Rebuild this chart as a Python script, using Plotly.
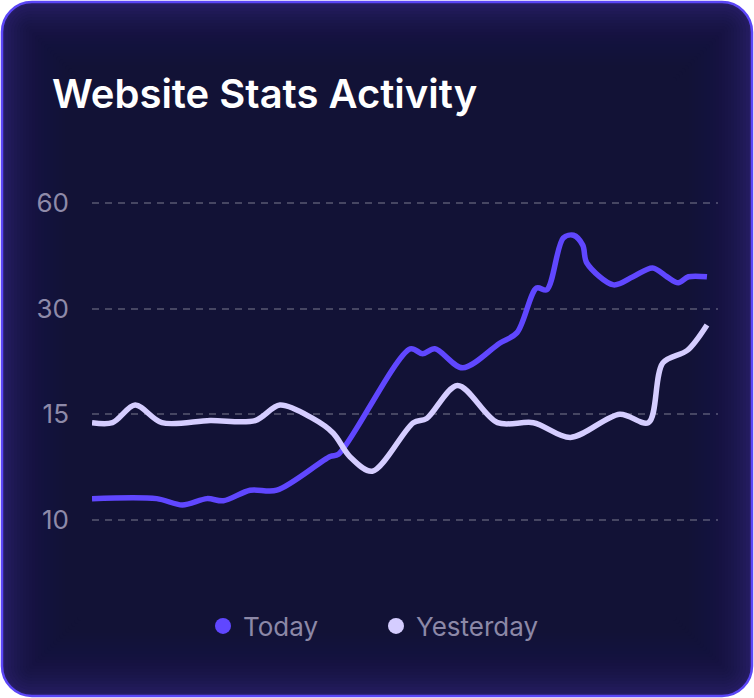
import numpy as np
import plotly.graph_objects as go

# ---------------- data ----------------
tick_values = [10, 15, 30, 60]
tick_labels = ["10", "15", "30", "60"]

today_x = [0, 6.3, 8.8, 11.2, 12.8, 15.4, 18.0, 23.2, 24.0, 31.0, 32.2, 33.4, 36.1,
           39.7, 41.4, 43.3, 44.3, 45.9, 46.9, 47.8, 48.2, 50.8, 52.7, 54.6, 56.0,
           57.1, 58.1, 59.9]
today_y = [11.0, 11.0, 10.7, 11.0, 10.9, 11.4, 11.4, 13.0, 13.1, 24.3, 23.6, 24.3, 21.6,
           25.1, 26.6, 35.9, 35.4, 50.1, 50.9, 48.1, 43.0, 36.8, 39.1, 41.6, 39.1,
           37.4, 39.1, 39.1]

yesterday_x = [0, 2.0, 4.2, 6.8, 11.5, 15.9, 18.3, 21.5, 23.5, 25.1, 27.3, 31.3, 32.6,
               35.6, 39.5, 43.0, 46.6, 51.4, 54.2, 55.6, 58.0, 59.9]
yesterday_y = [14.6, 14.6, 16.3, 14.6, 14.7, 14.7, 16.3, 14.8, 14.1, 13.0, 12.3, 14.6, 14.8,
               19.1, 14.6, 14.6, 13.9, 15.0, 14.6, 22.3, 24.1, 27.7]

series_names = ["Today", "Yesterday"]
series_colors = ["#6047ff", "#d5cdff"]

# ---------------- layout geometry ----------------
W, H = 754, 698
ML, MR, MT, MB = 92, 36, 198, 173
PW, PH = W - ML - MR, H - MT - MB
X_MAX = 60 * PW / 616.0

tick_pos = list(range(len(tick_values)))


def to_axis(v):
    return np.interp(v, tick_values, tick_pos)


def xp(px):
    return (px - ML) / PW


def yp(py):
    return (H - MB - py) / PH


def rounded_rect(x0, y0, x1, y1, r):
    k = 0.5523 * r
    pts = []
    pts.append(f"M{xp(x0 + r)},{yp(y0)}")
    pts.append(f"L{xp(x1 - r)},{yp(y0)}")
    pts.append(f"C{xp(x1 - r + k)},{yp(y0)} {xp(x1)},{yp(y0 + r - k)} {xp(x1)},{yp(y0 + r)}")
    pts.append(f"L{xp(x1)},{yp(y1 - r)}")
    pts.append(f"C{xp(x1)},{yp(y1 - r + k)} {xp(x1 - r + k)},{yp(y1)} {xp(x1 - r)},{yp(y1)}")
    pts.append(f"L{xp(x0 + r)},{yp(y1)}")
    pts.append(f"C{xp(x0 + r - k)},{yp(y1)} {xp(x0)},{yp(y1 - r + k)} {xp(x0)},{yp(y1 - r)}")
    pts.append(f"L{xp(x0)},{yp(y0 + r)}")
    pts.append(f"C{xp(x0)},{yp(y0 + r - k)} {xp(x0 + r - k)},{yp(y0)} {xp(x0 + r)},{yp(y0)}")
    pts.append("Z")
    return " ".join(pts)


CX0, CY0, CX1, CY1, CR = 2, 2, 752, 696, 30
card = rounded_rect(CX0, CY0, CX1, CY1, CR)
outer = (f"M{xp(-10)},{yp(-10)} L{xp(W + 10)},{yp(-10)} L{xp(W + 10)},{yp(H + 10)} "
         f"L{xp(-10)},{yp(H + 10)} Z")

# card: edge colour, then inset layers of the inner colour -> soft inner glow
shapes = [dict(type="path", path=card, xref="paper", yref="paper",
               fillcolor="#261d63", line=dict(width=0), layer="below")]
for t in range(3, 78, 3):
    shapes.append(dict(type="path",
                       path=rounded_rect(CX0 + t, CY0 + t, CX1 - t, CY1 - t, max(CR - t, 4)),
                       xref="paper", yref="paper",
                       fillcolor="rgba(21,18,58,0.11)", line=dict(width=0), layer="below"))
shapes.append(dict(type="path", path=outer + " " + card, xref="paper", yref="paper",
                   fillcolor="white", fillrule="evenodd", line=dict(width=0), layer="below"))
shapes.append(dict(type="path", path=card, xref="paper", yref="paper",
                   line=dict(width=2.5, color="#5b46f6"), layer="below"))

fig = go.Figure()
for name, xs, ys, col in [(series_names[0], today_x, today_y, series_colors[0]),
                          (series_names[1], yesterday_x, yesterday_y, series_colors[1])]:
    fig.add_trace(go.Scatter(x=xs, y=to_axis(ys), mode="lines", name=name,
                             line=dict(color=col, width=5.5, shape="spline", smoothing=0.9),
                             showlegend=False, hoverinfo="skip"))
for name, col in zip(series_names, series_colors):
    fig.add_trace(go.Scatter(x=[None], y=[None], mode="markers", name=name,
                             marker=dict(color=col, size=20, symbol="circle")))

fig.update_layout(
    width=W, height=H,
    margin=dict(l=ML, r=MR, t=MT, b=MB),
    paper_bgcolor="white",
    plot_bgcolor="rgba(0,0,0,0)",
    shapes=shapes,
    title=dict(text="Website Stats Activity", xref="container", yref="container",
               x=52 / W, y=1 - 94 / H, xanchor="left", yanchor="middle",
               font=dict(family="Inter", size=40, color="white", weight=600)),
    xaxis=dict(range=[0, X_MAX], visible=False, fixedrange=True),
    yaxis=dict(range=[-0.05, 3.05], tickvals=tick_pos, ticktext=tick_labels,
               showgrid=True, gridcolor="rgba(255,255,255,0.22)", gridwidth=1.5,
               griddash="7px,6px", zeroline=False, showline=False, ticks="",
               ticklabelstandoff=22, fixedrange=True,
               tickfont=dict(family="Inter", size=26, color="#8e8aa9")),
    legend=dict(orientation="h", x=xp(376), xanchor="center", y=yp(626), yanchor="middle",
                font=dict(family="Inter", size=26, color="#8c88a7"),
                bgcolor="rgba(0,0,0,0)", entrywidth=128, itemsizing="trace"),
    showlegend=True,
)

fig.write_html("out.html", config={"displayModeBar": False},
               post_script="document.body.style.margin='0';")
